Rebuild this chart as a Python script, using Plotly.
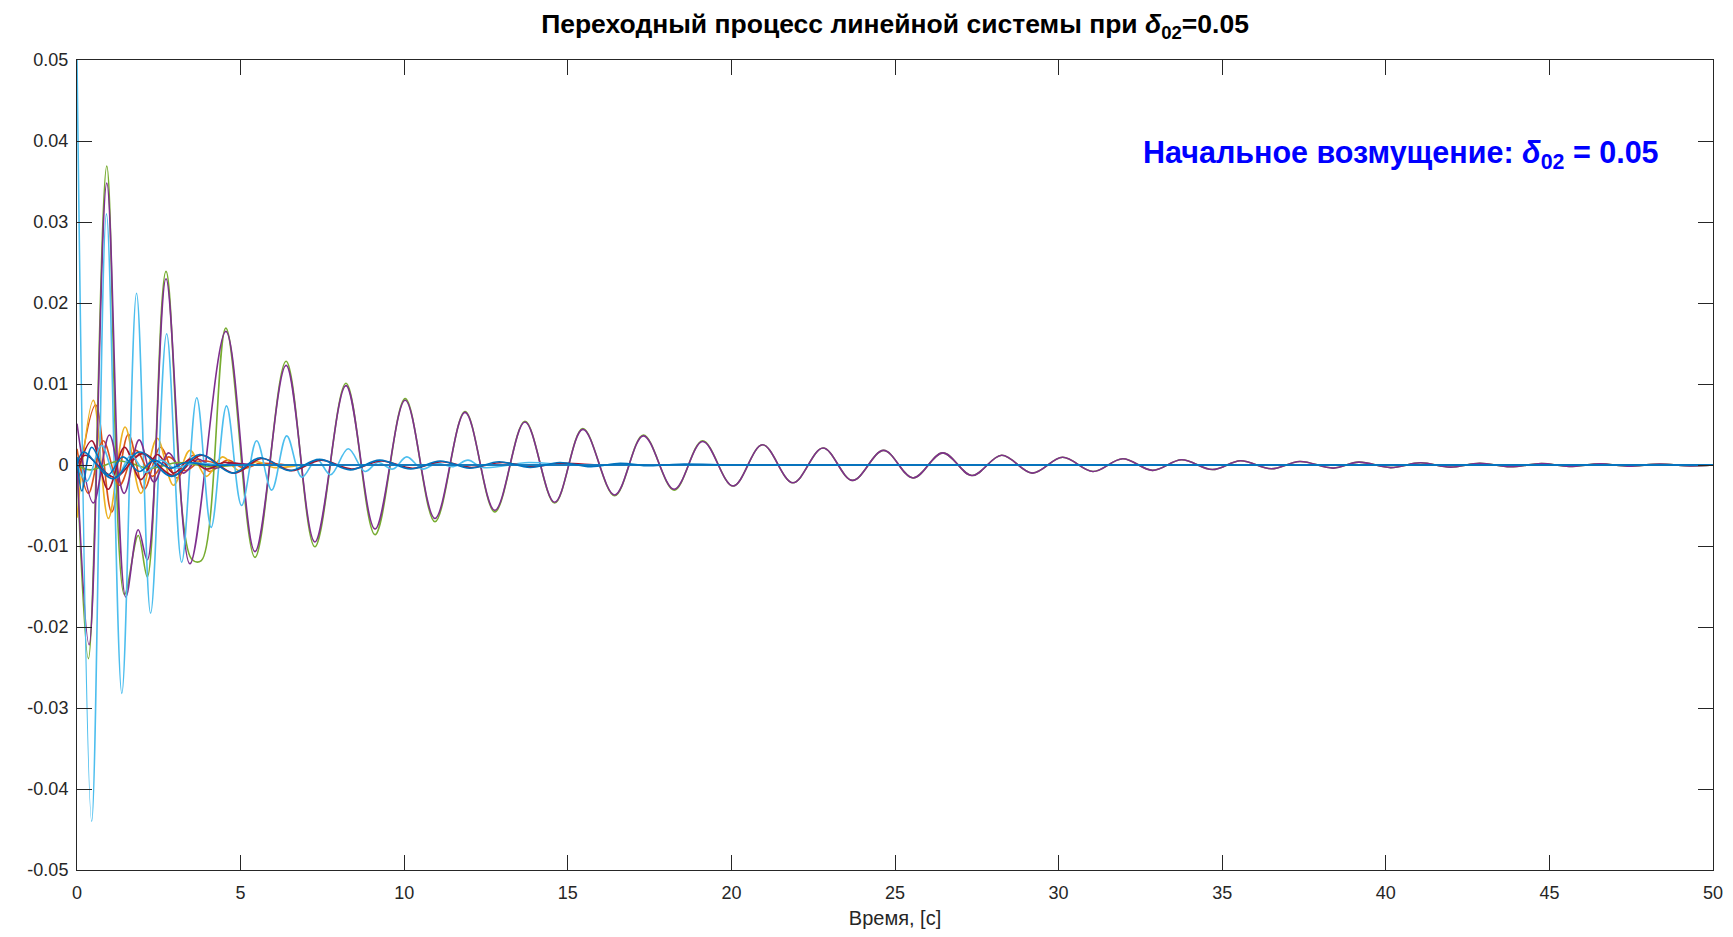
import plotly.graph_objects as go

# ---------------- data ----------------
# Each curve: times (s) of its read extrema / settling points and the values there.
GREEN_T = [0, 0.35, 0.91, 1.45, 1.87, 2.15, 2.72, 3.5, 3.8, 4.55, 5.44, 6.39, 7.27, 8.22, 9.11, 10.03,
           10.94, 11.86, 12.77, 13.69, 14.6, 15.46, 16.43, 17.31, 18.25, 19.12, 20.05, 20.95, 21.88,
           22.8, 23.7, 24.65, 25.55, 26.46, 27.35, 28.26, 29.2, 30.12, 31.05, 31.96, 32.87, 33.76,
           34.7, 35.56, 36.5, 37.37, 38.4, 39.17, 40.15, 41.06, 41.97, 42.87, 43.8, 44.76, 45.6,
           46.56, 47.4, 48.37, 49.3, 50]
GREEN_V = [0.0, -0.0239, 0.0369, -0.0160, -0.0087, -0.0138, 0.0239, -0.0116, -0.0118, 0.0169,
           -0.0114, 0.0128, -0.0101, 0.0101, -0.0086, 0.0082, -0.0070, 0.0066, -0.0058, 0.0054,
           -0.0047, 0.0045, -0.0038, 0.0037, -0.0031, 0.0030, -0.0026, 0.0025, -0.0022, 0.0021,
           -0.0019, 0.0018, -0.0016, 0.0015, -0.0013, 0.0012, -0.0010, 0.00095, -0.0008, 0.00078,
           -0.00066, 0.00064, -0.00056, 0.00052, -0.00046, 0.00043, -0.00038, 0.00035, -0.00032,
           0.00027, -0.00026, 0.00022, -0.00021, 0.00018, -0.00017, 0.00014, -0.00014, 0.00012,
           -0.00011, 0.0]

PURPLE_T = [0, 0.37, 0.91, 1.49, 1.87, 2.15, 2.72, 3.45, 4.55, 5.44, 6.39, 7.27, 8.22, 9.11, 10.03,
            10.94, 11.86, 12.77, 13.69, 14.6, 15.46, 16.43, 17.31, 18.25, 19.12, 20.05, 20.95, 21.88,
            22.8, 23.7, 24.65, 25.55, 26.46, 27.35, 28.26, 29.2, 30.12, 31.05, 31.96, 32.87, 33.76,
            34.7, 35.56, 36.5, 37.37, 38.4, 39.17, 40.15, 41.06, 41.97, 42.87, 43.8, 44.76, 45.6,
            46.56, 47.4, 48.37, 49.3, 50]
PURPLE_V = [0.0, -0.0222, 0.0348, -0.0163, -0.0080, -0.0117, 0.0230, -0.0122, 0.0165, -0.0107,
            0.0123, -0.0095, 0.0098, -0.0079, 0.0080, -0.0066, 0.0065, -0.0056, 0.0053, -0.0046,
            0.0044, -0.0037, 0.0036, -0.0030, 0.0029, -0.0026, 0.0025, -0.0022, 0.0021, -0.0019,
            0.0018, -0.0016, 0.0015, -0.0013, 0.0012, -0.0010, 0.00095, -0.0008, 0.00078, -0.00066,
            0.00064, -0.00056, 0.00052, -0.00046, 0.00043, -0.00038, 0.00035, -0.00032, 0.00027,
            -0.00026, 0.00022, -0.00021, 0.00018, -0.00017, 0.00014, -0.00014, 0.00012, -0.00011, 0.0]

LBLUE_T = [0, 0.45, 0.9, 1.37, 1.82, 2.25, 2.74, 3.2, 3.66, 4.1, 4.57, 5.03, 5.49, 5.95, 6.41, 6.87,
           7.33, 7.75, 8.29, 8.8, 9.2, 9.65, 10.08, 10.55, 11.0, 11.5, 11.95, 12.4, 13.8, 15, 16, 50]
LBLUE_V = [0.05, -0.044, 0.031, -0.0282, 0.0212, -0.0183, 0.0162, -0.0120, 0.0083, -0.0077, 0.0073,
           -0.0050, 0.0030, -0.0031, 0.0036, -0.0015, 0.0007, -0.0012, 0.0020, -0.0008, 0.0003,
           -0.0005, 0.0010, -0.0005, 0.0002, -0.0002, 0.0006, -0.0003, 0.0003, 0.0, 0.0, 0.0]

BLUE_A_T = [0, 0.2, 1.1, 1.9, 2.9, 3.75, 4.75, 5.6, 6.5, 7.4, 8.35, 9.25, 10.2, 11.1, 12.0, 12.9,
            13.85, 14.75, 15.7, 16.6, 17.5, 18.4, 20, 21, 50]
BLUE_A_V = [0.0, 0.0016, -0.0017, 0.0016, -0.0014, 0.0013, -0.0010, 0.0009, -0.0007, 0.0007, -0.0006,
            0.0006, -0.0005, 0.0005, -0.0004, 0.0004, -0.0003, 0.0003, -0.0002, 0.0002, -0.0001,
            0.0001, 0.0, 0.0, 0.0]

RED_A_T = [0, 0.25, 1.15, 2.0, 2.95, 3.8, 4.8, 5.65, 6.55, 7.45, 8.4, 9.3, 10.25, 11.15, 12.05, 13.0,
           13.9, 14.8, 16, 17, 50]
RED_A_V = [0.0, 0.0012, -0.0015, 0.0014, -0.0013, 0.0012, -0.0010, 0.0008, -0.0007, 0.0006, -0.0005,
           0.0005, -0.0004, 0.0004, -0.0003, 0.0003, -0.0002, 0.0002, 0.0, 0.0, 0.0]

BLUE_B_T = [0, 0.15, 0.45, 0.95, 1.4, 1.9, 2.35, 2.85, 3.3, 4.0, 5.0, 50]
BLUE_B_V = [0.001, -0.0032, 0.0022, -0.0012, 0.0010, -0.0008, 0.0006, -0.0004, 0.0003, 0.0, 0.0, 0.0]

ORANGE_A_T = [0, 0.57, 1.06, 1.57, 2.05, 2.55, 3.05, 3.55, 4.05, 4.6, 5.1, 5.6, 6.5, 7.5, 50]
ORANGE_A_V = [-0.0030, 0.0074, -0.0058, 0.0038, -0.0030, 0.0022, -0.0016, 0.0012, -0.0008, 0.0006,
              -0.0004, 0.0002, 0.0, 0.0, 0.0]

YELLOW_A_T = [0, 0.5, 0.96, 1.47, 1.95, 2.45, 2.95, 3.45, 3.95, 4.45, 4.95, 5.5, 6.0, 7.0, 8.0, 50]
YELLOW_A_V = [-0.0065, 0.0080, -0.0066, 0.0047, -0.0035, 0.0033, -0.0025, 0.0018, -0.0014, 0.0010,
              -0.0007, 0.0004, -0.0003, 0.0, 0.0, 0.0]

ORANGE_B_T = [0, 0.35, 0.8, 1.3, 1.8, 2.3, 2.8, 3.3, 3.8, 4.5, 5.5, 50]
ORANGE_B_V = [0.0020, -0.0035, 0.0030, -0.0025, 0.0018, -0.0014, 0.0010, -0.0007, 0.0005, 0.0, 0.0, 0.0]

PURPLE_S_T = [0, 0.5, 0.99, 1.44, 1.9, 2.35, 2.8, 3.25, 3.7, 4.2, 4.7, 5.5, 6.5, 50]
PURPLE_S_V = [0.0051, -0.0047, 0.0037, -0.0035, 0.0031, -0.0021, 0.0015, -0.0010, 0.0007, -0.0004,
              0.0002, 0.0, 0.0, 0.0]

GREEN_S_T = [0, 0.4, 1.3, 2.2, 3.1, 4.0, 5.0, 6.0, 50]
GREEN_S_V = [0.0, -0.0006, 0.0005, -0.0004, 0.0003, -0.0002, 0.0, 0.0, 0.0]

LBLUE_S_T = [0, 0.3, 0.75, 1.2, 1.65, 2.1, 2.55, 3.0, 3.5, 4.5, 5.5, 50]
LBLUE_S_V = [0.0, -0.0020, 0.0024, -0.0016, 0.0012, -0.0009, 0.0006, -0.0004, 0.0002, 0.0, 0.0, 0.0]

RED_B_T = [0, 0.45, 0.95, 1.45, 1.95, 2.45, 2.95, 3.45, 3.95, 4.5, 5.2, 6.2, 50]
RED_B_V = [-0.0010, 0.0030, -0.0030, 0.0022, -0.0018, 0.0013, -0.0010, 0.0007, -0.0005, 0.0003, 0.0,
           0.0, 0.0]

X_TICKS = [0, 5, 10, 15, 20, 25, 30, 35, 40, 45, 50]
Y_TICKS = [-0.05, -0.04, -0.03, -0.02, -0.01, 0, 0.01, 0.02, 0.03, 0.04, 0.05]
Y_TICK_TEXT = ['-0.05', '-0.04', '-0.03', '-0.02', '-0.01', '0', '0.01', '0.02', '0.03', '0.04', '0.05']

TITLE = "Переходный процесс линейной системы при <i>δ</i><sub>02</sub>=0.05"
NOTE = "Начальное возмущение: <i>δ</i><sub>02</sub> = 0.05"
X_LABEL = "Время, [с]"

# ---------------- figure ----------------
# drawing order: later curves lie on top
curves = [
    (ORANGE_A_T, ORANGE_A_V, "#D95319"),
    (YELLOW_A_T, YELLOW_A_V, "#EDB120"),
    (GREEN_T, GREEN_V, "#77AC30"),
    (PURPLE_T, PURPLE_V, "#7E2F8E"),
    (LBLUE_T, LBLUE_V, "#4DBEEE"),
    (ORANGE_B_T, ORANGE_B_V, "#D95319"),
    (PURPLE_S_T, PURPLE_S_V, "#7E2F8E"),
    (GREEN_S_T, GREEN_S_V, "#77AC30"),
    (RED_B_T, RED_B_V, "#A2142F"),
    (RED_A_T, RED_A_V, "#A2142F"),
    (LBLUE_S_T, LBLUE_S_V, "#4DBEEE"),
    (BLUE_B_T, BLUE_B_V, "#0072BD"),
    (BLUE_A_T, BLUE_A_V, "#0072BD"),
]

fig = go.Figure()
for t, v, c in curves:
    fig.add_trace(go.Scatter(x=t, y=v, mode="lines",
                             line=dict(color=c, width=1.6, shape="spline", smoothing=1.0),
                             showlegend=False, hoverinfo="skip"))

font_family = "Liberation Sans, Arial, Helvetica, sans-serif"
axis_common = dict(showline=True, linecolor="#262626", linewidth=1, mirror="ticks",
                   ticks="inside", ticklen=15, tickcolor="#262626", tickwidth=1,
                   showgrid=False, zeroline=False,
                   tickfont=dict(family=font_family, size=18, color="#262626"))

fig.update_layout(
    width=1717, height=921,
    paper_bgcolor="white", plot_bgcolor="white",
    margin=dict(l=69, r=12, t=52, b=59, autoexpand=False),
    title=dict(text="<b>" + TITLE + "</b>", x=0.5, xref="paper", xanchor="center",
               y=0.9826, yref="container", yanchor="middle",
               font=dict(family=font_family, size=26.5, color="black")),
    xaxis=dict(range=[0, 50], tickvals=X_TICKS, ticktext=[str(x) for x in X_TICKS],
               ticklabelstandoff=6,
               title=dict(text=X_LABEL, standoff=9,
                          font=dict(family=font_family, size=20, color="#262626")),
               **axis_common),
    yaxis=dict(range=[-0.05, 0.05], tickvals=Y_TICKS, ticktext=Y_TICK_TEXT,
               ticklabelstandoff=4, **axis_common),
    annotations=[dict(text="<b>" + NOTE + "</b>", x=0.968, y=0.883, xref="paper", yref="paper",
                      xanchor="right", yanchor="middle", showarrow=False,
                      font=dict(family=font_family, size=30.5, color="#0000FF"))],
)

fig.write_html("out.html")
